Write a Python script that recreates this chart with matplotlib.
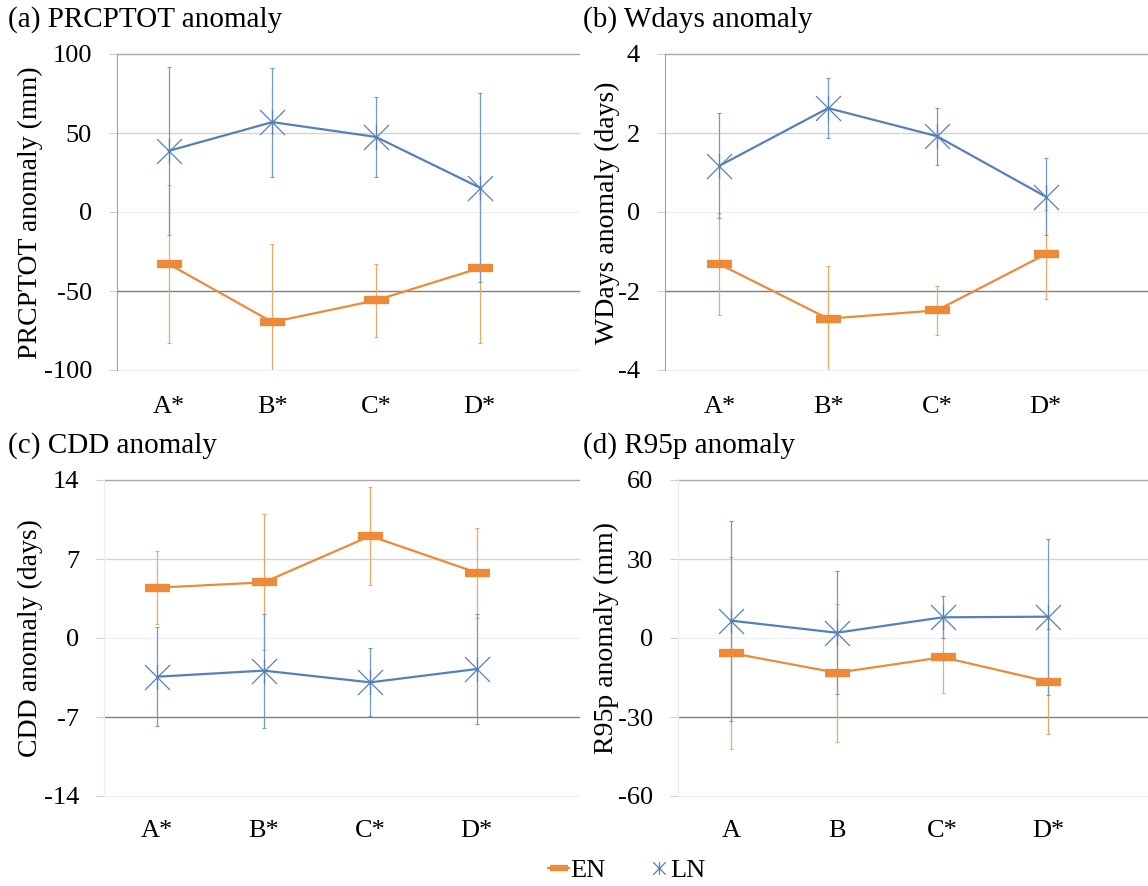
import matplotlib
matplotlib.use("Agg")
import matplotlib.pyplot as plt
from matplotlib.lines import Line2D
from matplotlib.path import Path

plt.rcParams["font.family"] = ["Liberation Serif", "DejaVu Serif"]

# ---- data ----
cats_top = ["A*", "B*", "C*", "D*"]
cats_r95 = ["A", "B", "C*", "D*"]

prcptot_en = [-33.0, -69.7, -55.9, -35.5]
prcptot_en_err = [50.0, 49.3, 23.2, 47.3]
prcptot_ln = [38.7, 56.9, 47.5, 15.5]
prcptot_ln_err = [53.0, 34.5, 25.5, 60.0]

wdays_en = [-1.32, -2.70, -2.49, -1.07]
wdays_en_err = [1.29, 1.34, 0.62, 1.13]
wdays_ln = [1.17, 2.63, 1.92, 0.39]
wdays_ln_err = [1.33, 0.76, 0.72, 0.98]

cdd_en = [4.46, 4.93, 9.04, 5.79]
cdd_en_err = [3.25, 6.03, 4.3, 4.0]
cdd_ln = [-3.43, -2.89, -3.93, -2.75]
cdd_ln_err = [4.4, 5.05, 3.0, 4.9]

r95_en = [-5.7, -13.2, -7.3, -16.6]
r95_en_err = [36.6, 26.2, 13.7, 20.0]
r95_ln = [6.6, 2.0, 7.85, 8.1]
r95_ln_err = [38.0, 23.4, 8.0, 29.6]

ORANGE = "#EE8A37"
ORANGE_ERR = "#F2A766"
BLUE = "#5580BA"
BLUE_ERR = "#7199CB"

# Excel-like star marker: X plus vertical stroke
STAR = Path([(-1, -1), (1, 1), (-1, 1), (1, -1), (0, -1), (0, 1)],
            [Path.MOVETO, Path.LINETO] * 3)

W, H = 1148, 886
fig = plt.figure(figsize=(W / 100, H / 100), dpi=100)
fig.patch.set_facecolor("white")


def px_axes(left, right, top, bottom):
    return fig.add_axes([left / W, 1 - bottom / H, (right - left) / W, (bottom - top) / H])


def draw_panel(ax, cats, en, en_err, ln, ln_err, ylim, step, cross, ylabel, spine_color, xpad):
    x = list(range(len(cats)))
    ymin, ymax = ylim
    ticks = []
    v = ymin
    while v <= ymax + 1e-9:
        ticks.append(v)
        v += step

    # gridlines coloured like the original
    for t in ticks:
        if t == ymax:
            c = "#a8a8a8"
        elif t == cross:
            c = "#7f7f7f"
        elif t > 0:
            c = "#d4d4d4"
        else:
            c = "#f0f0f0"
        ax.axhline(t, color=c, lw=1.0, zorder=0.5, clip_on=False)

    ax.errorbar(x, en, yerr=en_err, fmt="none", ecolor=ORANGE_ERR, elinewidth=0.9,
                capsize=1.5, capthick=0.8, zorder=2)
    ax.errorbar(x, ln, yerr=ln_err, fmt="none", ecolor=BLUE_ERR, elinewidth=0.9,
                capsize=1.5, capthick=0.8, zorder=3)
    ax.plot(x, ln, color=BLUE, lw=1.6, marker=STAR, ms=18, mew=0.9,
            mec=BLUE, mfc="none", zorder=4)
    ax.plot(x, en, color=ORANGE, lw=1.6, marker="_", ms=18, mew=6,
            mec=ORANGE, zorder=5)

    ax.set_xlim(-0.5, 3.96)
    ax.set_ylim(ymin, ymax)
    ax.set_yticks(ticks)
    ax.set_yticklabels([f"{t:g}" for t in ticks])
    ax.set_xticks(x)
    ax.set_xticklabels(cats)
    ax.tick_params(axis="y", labelsize=19, length=6, color="#d0d0d0", pad=12)
    ax.tick_params(axis="x", labelsize=19, length=0, pad=xpad)
    for s in ["top", "right", "bottom"]:
        ax.spines[s].set_visible(False)
    ax.spines["left"].set_color(spine_color)
    ax.set_ylabel(ylabel, fontsize=20)
    ax.patch.set_alpha(0)


ax_a = px_axes(117, 579, 54, 370)
draw_panel(ax_a, cats_top, prcptot_en, prcptot_en_err, prcptot_ln, prcptot_ln_err,
           (-100, 100), 50, -50, "PRCPTOT anomaly (mm)", "#a0a0a0", 19)
ax_b = px_axes(665, 1150, 54, 370)
draw_panel(ax_b, cats_top, wdays_en, wdays_en_err, wdays_ln, wdays_ln_err,
           (-4, 4), 2, -2, "WDays anomaly (days)", "#a0a0a0", 19)
ax_c = px_axes(104, 579, 480, 796)
draw_panel(ax_c, cats_top, cdd_en, cdd_en_err, cdd_ln, cdd_ln_err,
           (-14, 14), 7, -7, "CDD anomaly (days)", "#ececec", 17)
ax_d = px_axes(678, 1150, 480, 796)
draw_panel(ax_d, cats_r95, r95_en, r95_en_err, r95_ln, r95_ln_err,
           (-60, 60), 30, -30, "R95p anomaly (mm)", "#ececec", 17)

for ax, pos in [(ax_a, (43, 213)), (ax_b, (620, 213)), (ax_c, (43, 638)), (ax_d, (619, 638))]:
    ax.yaxis.set_label_coords(pos[0] / W, 1 - pos[1] / H, transform=fig.transFigure)

# panel titles
titles = [("(a) PRCPTOT anomaly", 8, 20), ("(b) Wdays anomaly", 583, 20),
          ("(c) CDD anomaly", 8, 446), ("(d) R95p anomaly", 583, 446)]
for txt, tx, ty in titles:
    fig.text(tx / W, 1 - ty / H, txt, fontsize=21, ha="left", va="center")

# legend
handles = [
    Line2D([], [], color=ORANGE, lw=1.6, marker="_", ms=13, mew=4.5, mec=ORANGE),
    Line2D([], [], color=BLUE, lw=0, marker=STAR, ms=9, mew=0.9, mec=BLUE),
]
fig.legend(handles, ["EN", "LN"], loc="center", bbox_to_anchor=(627 / W, 1 - 870 / H),
           ncol=2, frameon=False, fontsize=19, handlelength=0.8, handletextpad=0.05,
           columnspacing=1.6)

fig.savefig("out.png", dpi=100, facecolor="white")
